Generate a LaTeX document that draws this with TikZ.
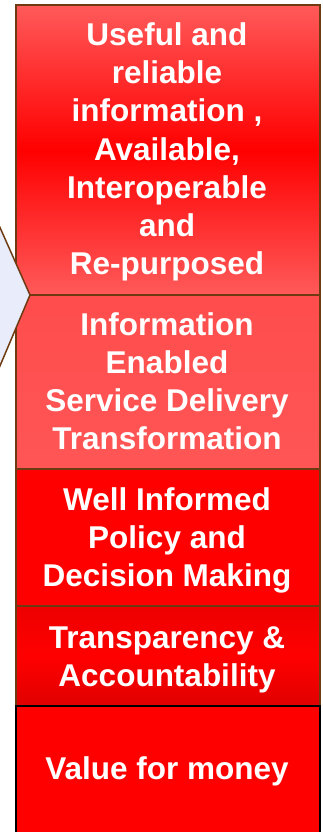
\documentclass[tikz,border=0pt]{standalone}
\usepackage{fontspec}
\setmainfont{Liberation Sans}
\definecolor{edgebrown}{HTML}{6E3A12}
\definecolor{lightred}{HTML}{FF5A5A}
\definecolor{chevblue}{HTML}{E8ECFB}
\begin{document}
\begin{tikzpicture}[x=1pt,y=1pt,
  box/.style={draw=edgebrown, line width=1.8pt, rectangle, inner sep=0pt, anchor=north west},
  glow/.style={box, top color=lightred, bottom color=lightred, middle color=red},
  label/.style={text=white, font=\bfseries\fontsize{31.5}{38.3}\selectfont, align=center, anchor=base, inner sep=0pt}]
\useasboundingbox (0,0) rectangle (322,832);
% boxes
\node[glow, minimum width=304pt, minimum height=290pt] (b1) at (15,828) {};
\node[glow, minimum width=304pt, minimum height=174pt, top color=lightred!85!red, bottom color=lightred!95!red] (b2) at (15,538) {};
\node[box, fill=red, minimum width=304pt, minimum height=137pt] (b3) at (15,364) {};
\node[box, top color=red!93!black, bottom color=red!88!black, middle color=red, minimum width=304pt, minimum height=100pt] (b4) at (15,227) {};
\node[box, draw=black, fill=red, minimum width=304pt, minimum height=135pt] (b5) at (15,127) {};
% chevron
\coordinate (tip) at (30,537);
\coordinate (ctop) at (-6,618);
\coordinate (cbot) at (-6,452);
\draw[edgebrown, line width=1.5pt, fill=chevblue, line join=miter] (ctop) -- (tip) -- (cbot);
% texts (anchored at the baseline of the last line)
\node[label] (t1) at (167,557) {Useful and\\reliable\\information ,\\Available,\\Interoperable\\and\\Re-purposed};
\node[label] (t2) at (167,382) {Information\\Enabled\\Service Delivery\\Transformation};
\node[label] (t3) at (167,245.3) {Well Informed\\Policy and\\Decision Making};
\node[label] (t4) at (167,145.3) {Transparency \&\\Accountability};
\node[label] (t5) at (167,52) {Value for money};
\end{tikzpicture}
\end{document}
